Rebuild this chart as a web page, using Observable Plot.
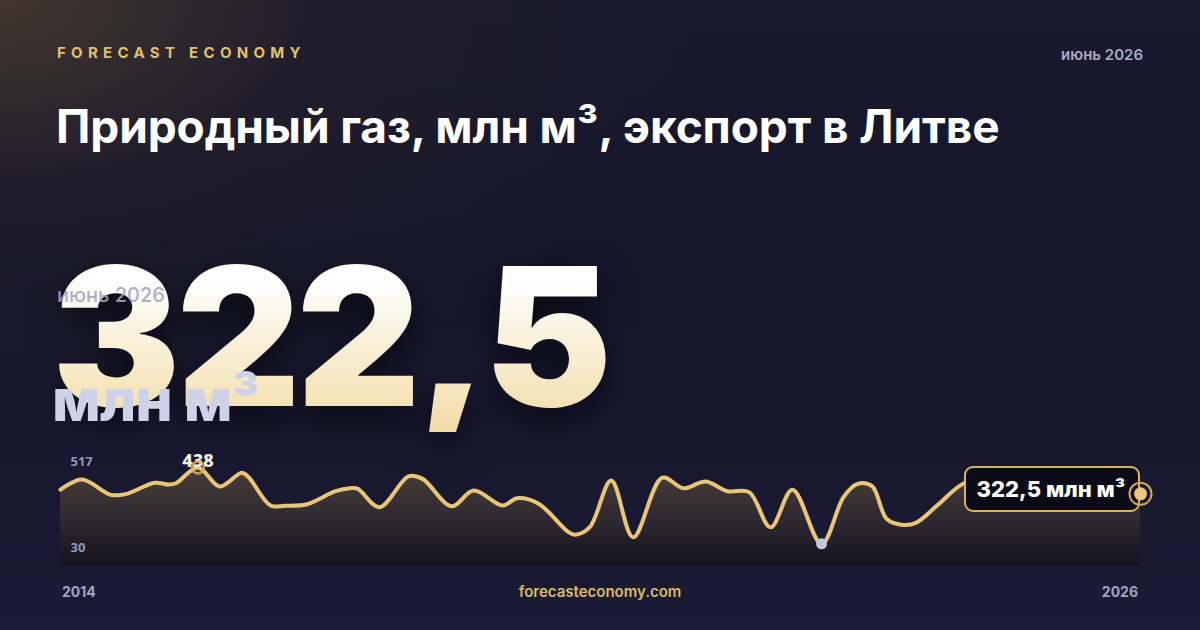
<!DOCTYPE html>
<html>
<head>
<meta charset="utf-8">
<script src="https://cdn.jsdelivr.net/npm/d3@7"></script>
<script src="https://cdn.jsdelivr.net/npm/@observablehq/plot@0.6"></script>
<style>
  html, body { margin: 0; padding: 0; }
  body {
    width: 1200px; height: 630px; overflow: hidden; position: relative;
    font-family: Inter, "Noto Sans", sans-serif;
    background:
      radial-gradient(ellipse 700px 420px at 0% 0%, rgba(68,56,46,0.95) 0%, rgba(40,34,44,0.5) 45%, rgba(22,22,42,0) 100%),
      linear-gradient(180deg, #19192c 0%, #15162b 45%, #1a1b34 100%);
  }
  .abs { position: absolute; white-space: nowrap; }
  #brand { left: 57px; top: 43px; font-size: 15px; font-weight: 700; letter-spacing: 5.3px; color: #e3bf6c; line-height: 20px; }
  #date { right: 57px; top: 45px; font-size: 15px; font-weight: 600; color: #a9abc6; line-height: 20px; }
  #title { left: 56px; top: 101px; font-size: 46px; font-weight: 700; color: #ffffff; line-height: 50px; letter-spacing: -0.1px; }
  #big { left: 52px; top: 240px; font-size: 192px; font-weight: 900; line-height: 1; letter-spacing: -4px;
    background: linear-gradient(180deg, #ffffff 20%, #f2dca4 100%);
    -webkit-background-clip: text; background-clip: text; color: transparent;
    filter: drop-shadow(0 14px 18px rgba(0,0,0,0.55)); }
  #bigdate { left: 57px; top: 283px; font-size: 20px; font-weight: 500; color: rgba(160,164,198,0.9); line-height: 24px; }
  #unit { left: 52px; top: 370px; font-size: 59px; font-weight: 800; color: #cdd2e8; line-height: 60px; letter-spacing: -1px; }
  #chart, #chart2 { left: 0; top: 440px; }
  #tip { box-sizing: border-box; background: #0b0b17; border: 2px solid #d9b45c; border-radius: 9px;
    color: #fff; font-weight: 800; font-size: 22px; display: flex; align-items: center; justify-content: center; padding-right: 2px; }
  #y0 { left: 62px; top: 584px; font-size: 14px; font-weight: 700; color: #a0a3c2; line-height: 16px; }
  #y1 { right: 62px; top: 584px; font-size: 14px; font-weight: 700; color: #a0a3c2; line-height: 16px; }
  #site { left: 0; width: 1200px; text-align: center; top: 584px; font-size: 15px; font-weight: 600; color: #dcb866; line-height: 16px; }
</style>
</head>
<body>
<div id="brand" class="abs">FORECAST ECONOMY</div>
<div id="date" class="abs">июнь 2026</div>
<div id="title" class="abs">Природный газ, млн м³, экспорт в Литве</div>
<div id="big" class="abs">322,5</div>
<div id="bigdate" class="abs">июнь 2026</div>
<div id="unit" class="abs">млн м³</div>
<div id="chart" class="abs"></div>
<div id="tip" class="abs"></div>
<div id="chart2" class="abs"></div>
<div id="y0" class="abs">2014</div>
<div id="site" class="abs">forecasteconomy.com</div>
<div id="y1" class="abs">2026</div>
<script>
const months = ["2014-01","2014-04","2014-08","2014-10","2015-02","2015-04","2015-05","2015-08","2015-11","2016-02",
  "2016-03","2016-06","2016-08","2016-11","2017-03","2017-05","2017-06","2017-09","2018-01","2018-03",
  "2018-07","2018-10","2019-02","2019-04","2019-07","2019-11","2019-12","2020-02","2020-05","2020-08",
  "2020-12","2021-03","2021-06","2021-09","2021-12","2022-03","2022-06","2022-10","2023-01","2023-03",
  "2023-05","2023-07","2023-09","2023-11","2024-02","2024-05","2024-08","2024-11","2025-02","2025-05",
  "2025-08","2025-12","2026-03","2026-06"];
const values = [341,385,318,321,371,363,369,438,355,415,
  395,271,270,277,334,347,345,264,399,388,
  268,337,271,303,279,157,143,176,381,132,
  393,347,377,334,330,176,340,103,308,366,
  356,213,187,195,274,356,403,428,410,425,
  381,337,346,322.5];
const yLabels = [517, 30];
const unitLabel = "млн м³";

const parse = d3.utcParse("%Y-%m");
const data = months.map((m, i) => ({date: parse(m), value: values[i]}));
const maxPt = d3.greatest(data, d => d.value);
const minPt = d3.least(data, d => d.value);
const last = data[data.length - 1];
const fmt = v => String(v).replace(".", ",");

const defs = () => {
  const g = d3.create("svg:defs");
  const lg = g.append("linearGradient").attr("id", "areaGrad").attr("x1", 0).attr("y1", 0).attr("x2", 0).attr("y2", 1);
  lg.append("stop").attr("offset", "0%").attr("stop-color", "#4a3e36");
  lg.append("stop").attr("offset", "55%").attr("stop-color", "#2e2830");
  lg.append("stop").attr("offset", "100%").attr("stop-color", "#14131f");
  return g.node();
};

const common = {
  width: 1200, height: 130,
  marginLeft: 60, marginRight: 60, marginTop: 9, marginBottom: 5,
  x: {type: "utc", domain: [data[0].date, last.date], axis: null},
  y: {domain: [8, 517], axis: null},
  style: {background: "transparent", overflow: "visible"}
};

const chart = Plot.plot({
  ...common,
  marks: [
    defs,
    Plot.areaY(data, {x: "date", y1: 8, y2: "value", fill: "url(#areaGrad)", curve: "catmull-rom"}),
    Plot.line(data, {x: "date", y: "value", stroke: "#e8c577", strokeWidth: 4, curve: "catmull-rom"}),
    Plot.text(yLabels.slice(0, 1), {x: () => data[0].date, y: d => d, text: d => String(d), dx: 10, dy: 12,
      textAnchor: "start", fill: "#9497ba", fontSize: 13, fontWeight: 700}),
    Plot.text(yLabels.slice(1), {x: () => data[0].date, y: d => d, text: d => String(d), dx: 10, dy: -13,
      textAnchor: "start", fill: "#9497ba", fontSize: 13, fontWeight: 700}),
    Plot.text([maxPt], {x: "date", y: "value", text: d => fmt(d.value), dy: -6, fill: "#f4f1ea", fontSize: 18, fontWeight: 800}),
    Plot.dot([maxPt], {x: "date", y: "value", r: 6, stroke: "#d8b25a", strokeWidth: 2.5, fill: "none", strokeOpacity: 0.85}),
    Plot.dot([minPt], {x: "date", y: "value", r: 5.5, fill: "#c3c7de", stroke: "none"})
  ]
});
document.getElementById("chart").appendChild(chart);

// end marker drawn above the tooltip, same scales
const chart2 = Plot.plot({
  ...common,
  marks: [
    Plot.dot([last], {x: "date", y: "value", r: 11, stroke: "#d4ab50", strokeWidth: 2, fill: "none"}),
    Plot.dot([last], {x: "date", y: "value", r: 6.5, fill: "#ebc979", stroke: "none"})
  ]
});
document.getElementById("chart2").appendChild(chart2);

const xs = chart.scale("x"), ys = chart.scale("y");
const cx = xs.apply(last.date), cy = ys.apply(last.value) + 440;
const tip = document.getElementById("tip");
tip.style.left = (cx - 176) + "px";
tip.style.top = (cy - 27) + "px";
tip.style.width = "176px";
tip.style.height = "46px";
tip.textContent = fmt(last.value) + " " + unitLabel;
</script>
</body>
</html>
